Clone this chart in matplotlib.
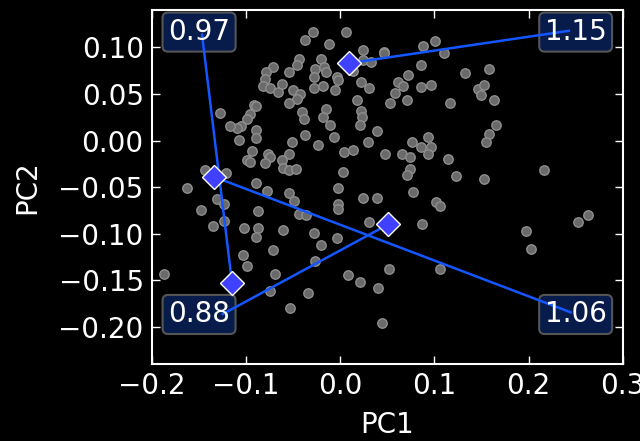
import matplotlib
matplotlib.use("Agg")
import matplotlib.pyplot as plt
import numpy as np

# sample scores on the first two principal components
pc1 = [
    -0.029, 0.006, -0.038, -0.012, 0.024, 0.046, -0.020, -0.044, -0.046, -0.072,
    -0.079, -0.055, -0.027, -0.017, -0.015, -0.004, -0.002, 0.014, 0.024, 0.033,
    -0.028, -0.080, -0.082, -0.075, -0.066, -0.062, -0.050, -0.043, -0.046, -0.055,
    -0.028, -0.018, -0.006, 0.022, 0.030, 0.018, 0.053, -0.092, -0.089, -0.096,
    -0.099, -0.105, -0.110, -0.117, -0.128, -0.090, -0.089, -0.108, -0.041, -0.039,
    -0.015, -0.018, -0.011, 0.022, 0.023, 0.021, -0.038, -0.051, -0.024, -0.007,
    0.004, 0.014, 0.029, 0.039, 0.047, -0.094, -0.077, -0.075, -0.099, -0.096,
    -0.080, -0.055, -0.062, -0.061, -0.055, -0.047, 0.003, -0.144, -0.121,
    0.046, 0.088, 0.101, 0.110, 0.086, 0.072, 0.061, 0.067, 0.058, 0.071,
    0.086, 0.096, 0.133, 0.158, 0.146, 0.149, 0.153, 0.163, 0.117, 0.165,
    0.158, 0.155, 0.076, 0.086, 0.093, 0.096, 0.093, 0.066, 0.074, 0.114,
    0.074, 0.071, 0.123, 0.153, 0.216,
    -0.163, -0.090, -0.078, -0.055, -0.049, -0.002, 0.024, 0.039, -0.002, -0.002,
    -0.131, -0.124, -0.148, -0.087, -0.044, -0.036, -0.123, -0.135, -0.102, -0.087,
    -0.090, -0.061, -0.028, -0.020, -0.004, 0.030, -0.072, -0.103, -0.099, -0.027,
    -0.187, -0.069, 0.008, 0.021, 0.040, 0.052, -0.075, -0.034, -0.053, 0.044,
    0.077, 0.102, 0.106, 0.087, 0.253, 0.263, 0.197, 0.203, 0.106,
]
pc2 = [
    0.117, 0.116, 0.108, 0.104, 0.097, 0.095, 0.088, 0.087, 0.081, 0.079,
    0.074, 0.074, 0.077, 0.079, 0.074, 0.068, 0.065, 0.075, 0.086, 0.084,
    0.068, 0.066, 0.059, 0.056, 0.052, 0.061, 0.054, 0.050, 0.045, 0.040,
    0.056, 0.059, 0.054, 0.063, 0.056, 0.044, 0.040, 0.038, 0.037, 0.029,
    0.023, 0.016, 0.013, 0.016, 0.030, 0.011, 0.003, 0.001, 0.031, 0.023,
    0.034, 0.025, 0.017, 0.032, 0.025, 0.017, 0.006, -0.002, -0.005, 0.004,
    -0.012, -0.010, -0.002, 0.010, -0.015, -0.011, -0.014, -0.018, -0.021, -0.023,
    -0.024, -0.014, -0.021, -0.030, -0.032, -0.031, -0.034, -0.032, -0.035,
    0.094, 0.102, 0.107, 0.094, 0.081, 0.070, 0.063, 0.059, 0.051, 0.044,
    0.058, 0.060, 0.073, 0.077, 0.055, 0.049, 0.060, 0.044, 0.040, 0.017,
    0.007, -0.002, -0.002, -0.007, 0.004, -0.007, -0.014, -0.014, -0.018, -0.020,
    -0.031, -0.037, -0.038, -0.041, -0.032,
    -0.051, -0.046, -0.054, -0.056, -0.065, -0.051, -0.062, -0.062, -0.068, -0.074,
    -0.063, -0.068, -0.075, -0.076, -0.079, -0.080, -0.086, -0.092, -0.094, -0.094,
    -0.104, -0.096, -0.099, -0.112, -0.105, -0.088, -0.118, -0.123, -0.135, -0.129,
    -0.143, -0.143, -0.144, -0.152, -0.158, -0.138, -0.162, -0.164, -0.180, -0.196,
    -0.055, -0.066, -0.070, -0.090, -0.087, -0.080, -0.097, -0.117, -0.138,
]

# highlighted samples and their scores
hl_pc1 = [0.009, -0.134, -0.115, 0.051]
hl_pc2 = [0.083, -0.039, -0.153, -0.090]
hl_vals = [1.15, 1.06, 0.97, 0.88]

# where each label's leader line ends (data units) and where its box sits (axes fraction)
end_x = [0.244, 0.246, -0.147, -0.126]
end_y = [0.118, -0.185, 0.115, -0.187]
box_xy = [(0.90, 0.938), (0.90, 0.14), (0.10, 0.938), (0.10, 0.14)]

xticks = [-0.2, -0.1, 0.0, 0.1, 0.2, 0.3]
yticks = [-0.20, -0.15, -0.10, -0.05, 0.00, 0.05, 0.10]

BG = "black"
FG = "white"
LINE = "#1456ff"
DIAMOND = "#4040ff"
BOXFILL = "#081c4c"
BOXEDGE = "#555555"

fig = plt.figure(figsize=(6.4, 4.41), dpi=100, facecolor=BG)
ax = fig.add_axes([0.2375, 0.1746, 0.7355, 0.8024])
ax.set_facecolor(BG)

ax.scatter(pc1, pc2, s=46, facecolor="#6a6a6a", edgecolor="#8e8e8e",
           linewidth=1.0, zorder=2)

for i, v in enumerate(hl_vals):
    # leader line sits above the label box but under its text
    ax.plot([hl_pc1[i], end_x[i]], [hl_pc2[i], end_y[i]], color=LINE,
            linewidth=1.8, zorder=5, solid_capstyle="butt")
    bx, by = box_xy[i]
    ax.text(bx, by, f"{v:.2f}", transform=ax.transAxes, fontsize=20,
            color="none", ha="center", va="center", zorder=4,
            bbox=dict(boxstyle="round,pad=0.2", facecolor=BOXFILL,
                      edgecolor=BOXEDGE, linewidth=1.5))
    ax.text(bx, by, f"{v:.2f}", transform=ax.transAxes, fontsize=20,
            color=FG, ha="center", va="center", zorder=6)

ax.plot(hl_pc1, hl_pc2, linestyle="none", marker="D", markersize=12,
        markerfacecolor=DIAMOND, markeredgecolor=FG, markeredgewidth=1.0,
        zorder=7)

ax.set_xlim(-0.2, 0.3)
ax.set_ylim(-0.24, 0.14)
ax.set_xticks(xticks)
ax.set_yticks(yticks)
ax.xaxis.set_major_formatter(
    matplotlib.ticker.FuncFormatter(lambda v, p: f"{v:.1f}".replace("-", "\u2212")))
ax.yaxis.set_major_formatter(
    matplotlib.ticker.FuncFormatter(lambda v, p: f"{v:.2f}".replace("-", "\u2212")))

for sp in ax.spines.values():
    sp.set_color(FG)
    sp.set_linewidth(1.5)
ax.tick_params(direction="in", length=6, width=1, colors=FG, labelsize=20,
               top=True, right=True, pad=6)
ax.set_xlabel("PC1", fontsize=20, color=FG, labelpad=8)
ax.set_ylabel("PC2", fontsize=20, color=FG, labelpad=12)

fig.savefig("out.png", dpi=100, facecolor=BG)
